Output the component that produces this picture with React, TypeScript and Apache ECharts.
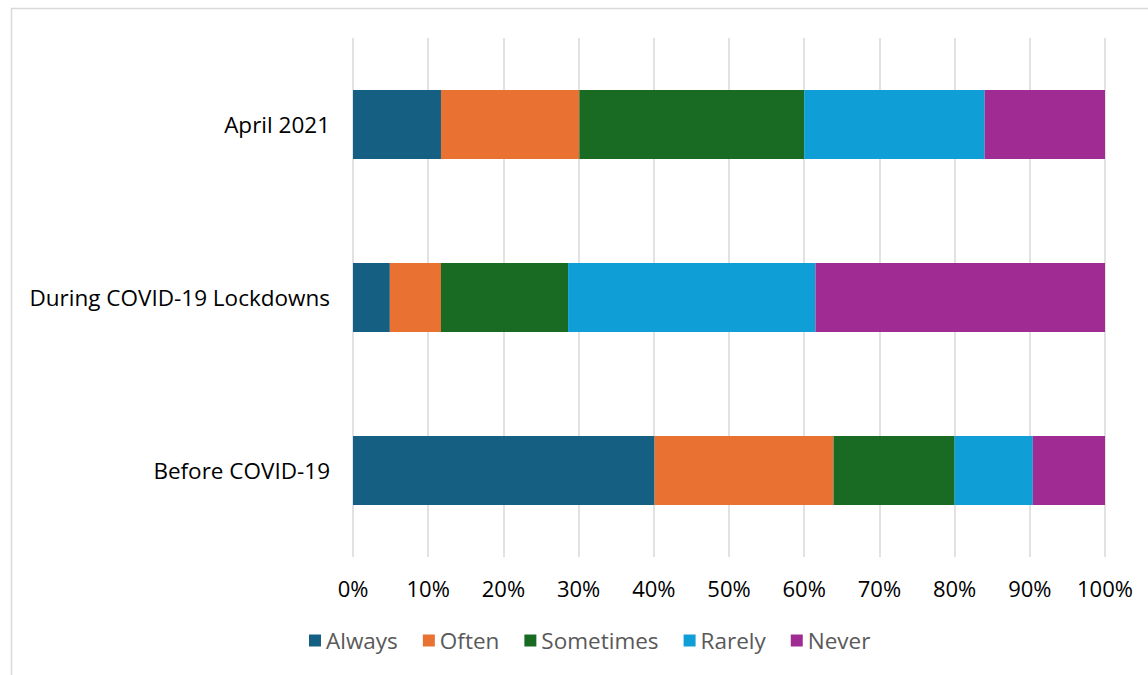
import React, { useEffect, useRef } from "react";
import * as echarts from "echarts";

const categories = ["Before COVID-19", "During COVID-19 Lockdowns", "April 2021"];
const seriesNames = ["Always", "Often", "Sometimes", "Rarely", "Never"];
const always = [40.1, 4.9, 11.7];
const often = [23.8, 6.8, 18.4];
const sometimes = [16.1, 16.9, 29.9];
const rarely = [10.4, 32.9, 24.0];
const never = [9.6, 38.5, 16.0];
const colors = ["#156082", "#E97132", "#196B24", "#0F9ED5", "#A02B93"];
const xTicks = [0, 10, 20, 30, 40, 50, 60, 70, 80, 90, 100];

export default function App() {
  const ref = useRef<HTMLDivElement>(null);
  useEffect(() => {
    if (!ref.current) return;
    const chart = echarts.init(ref.current, undefined, { renderer: "svg" });
    const values = [always, often, sometimes, rarely, never];
    const font = "'Open Sans', 'Noto Sans', sans-serif";
    chart.setOption({
      animation: false,
      backgroundColor: "#ffffff",
      color: colors,
      textStyle: { fontFamily: font },
      graphic: [
        {
          type: "rect",
          shape: { x: 11.5, y: 8.5, width: 1300, height: 800 },
          style: { fill: "none", stroke: "#D9D9D9", lineWidth: 1.5 },
          silent: true,
        },
      ],
      grid: { left: 353, right: 43, top: 38, bottom: 118, containLabel: false },
      legend: {
        left: 304,
        top: 624,
        itemWidth: 12,
        itemHeight: 12,
        itemGap: 25,
        icon: "rect",
        textStyle: { color: "#595959", fontSize: 22.5, fontFamily: font },
        data: seriesNames,
      },
      xAxis: {
        type: "value",
        min: xTicks[0],
        max: xTicks[xTicks.length - 1],
        interval: 10,
        axisLine: { show: false },
        axisTick: { show: false },
        splitLine: { show: true, lineStyle: { color: "#D9D9D9", width: 1.5 } },
        axisLabel: {
          formatter: "{value}%",
          color: "#000000",
          fontSize: 22,
          fontFamily: font,
          margin: 20,
        },
      },
      yAxis: {
        type: "category",
        data: categories,
        axisLine: { show: false },
        axisTick: { show: false },
        axisLabel: { color: "#000000", fontSize: 22.5, fontFamily: font, margin: 23 },
      },
      series: seriesNames.map((name, i) => ({
        name,
        type: "bar",
        stack: "total",
        barCategoryGap: "60%",
        data: values[i],
        itemStyle: { color: colors[i] },
      })),
    });
    return () => chart.dispose();
  }, []);
  return (
    <div
      ref={ref}
      style={{ position: "fixed", left: 0, top: 0, width: 1148, height: 675 }}
    />
  );
}
